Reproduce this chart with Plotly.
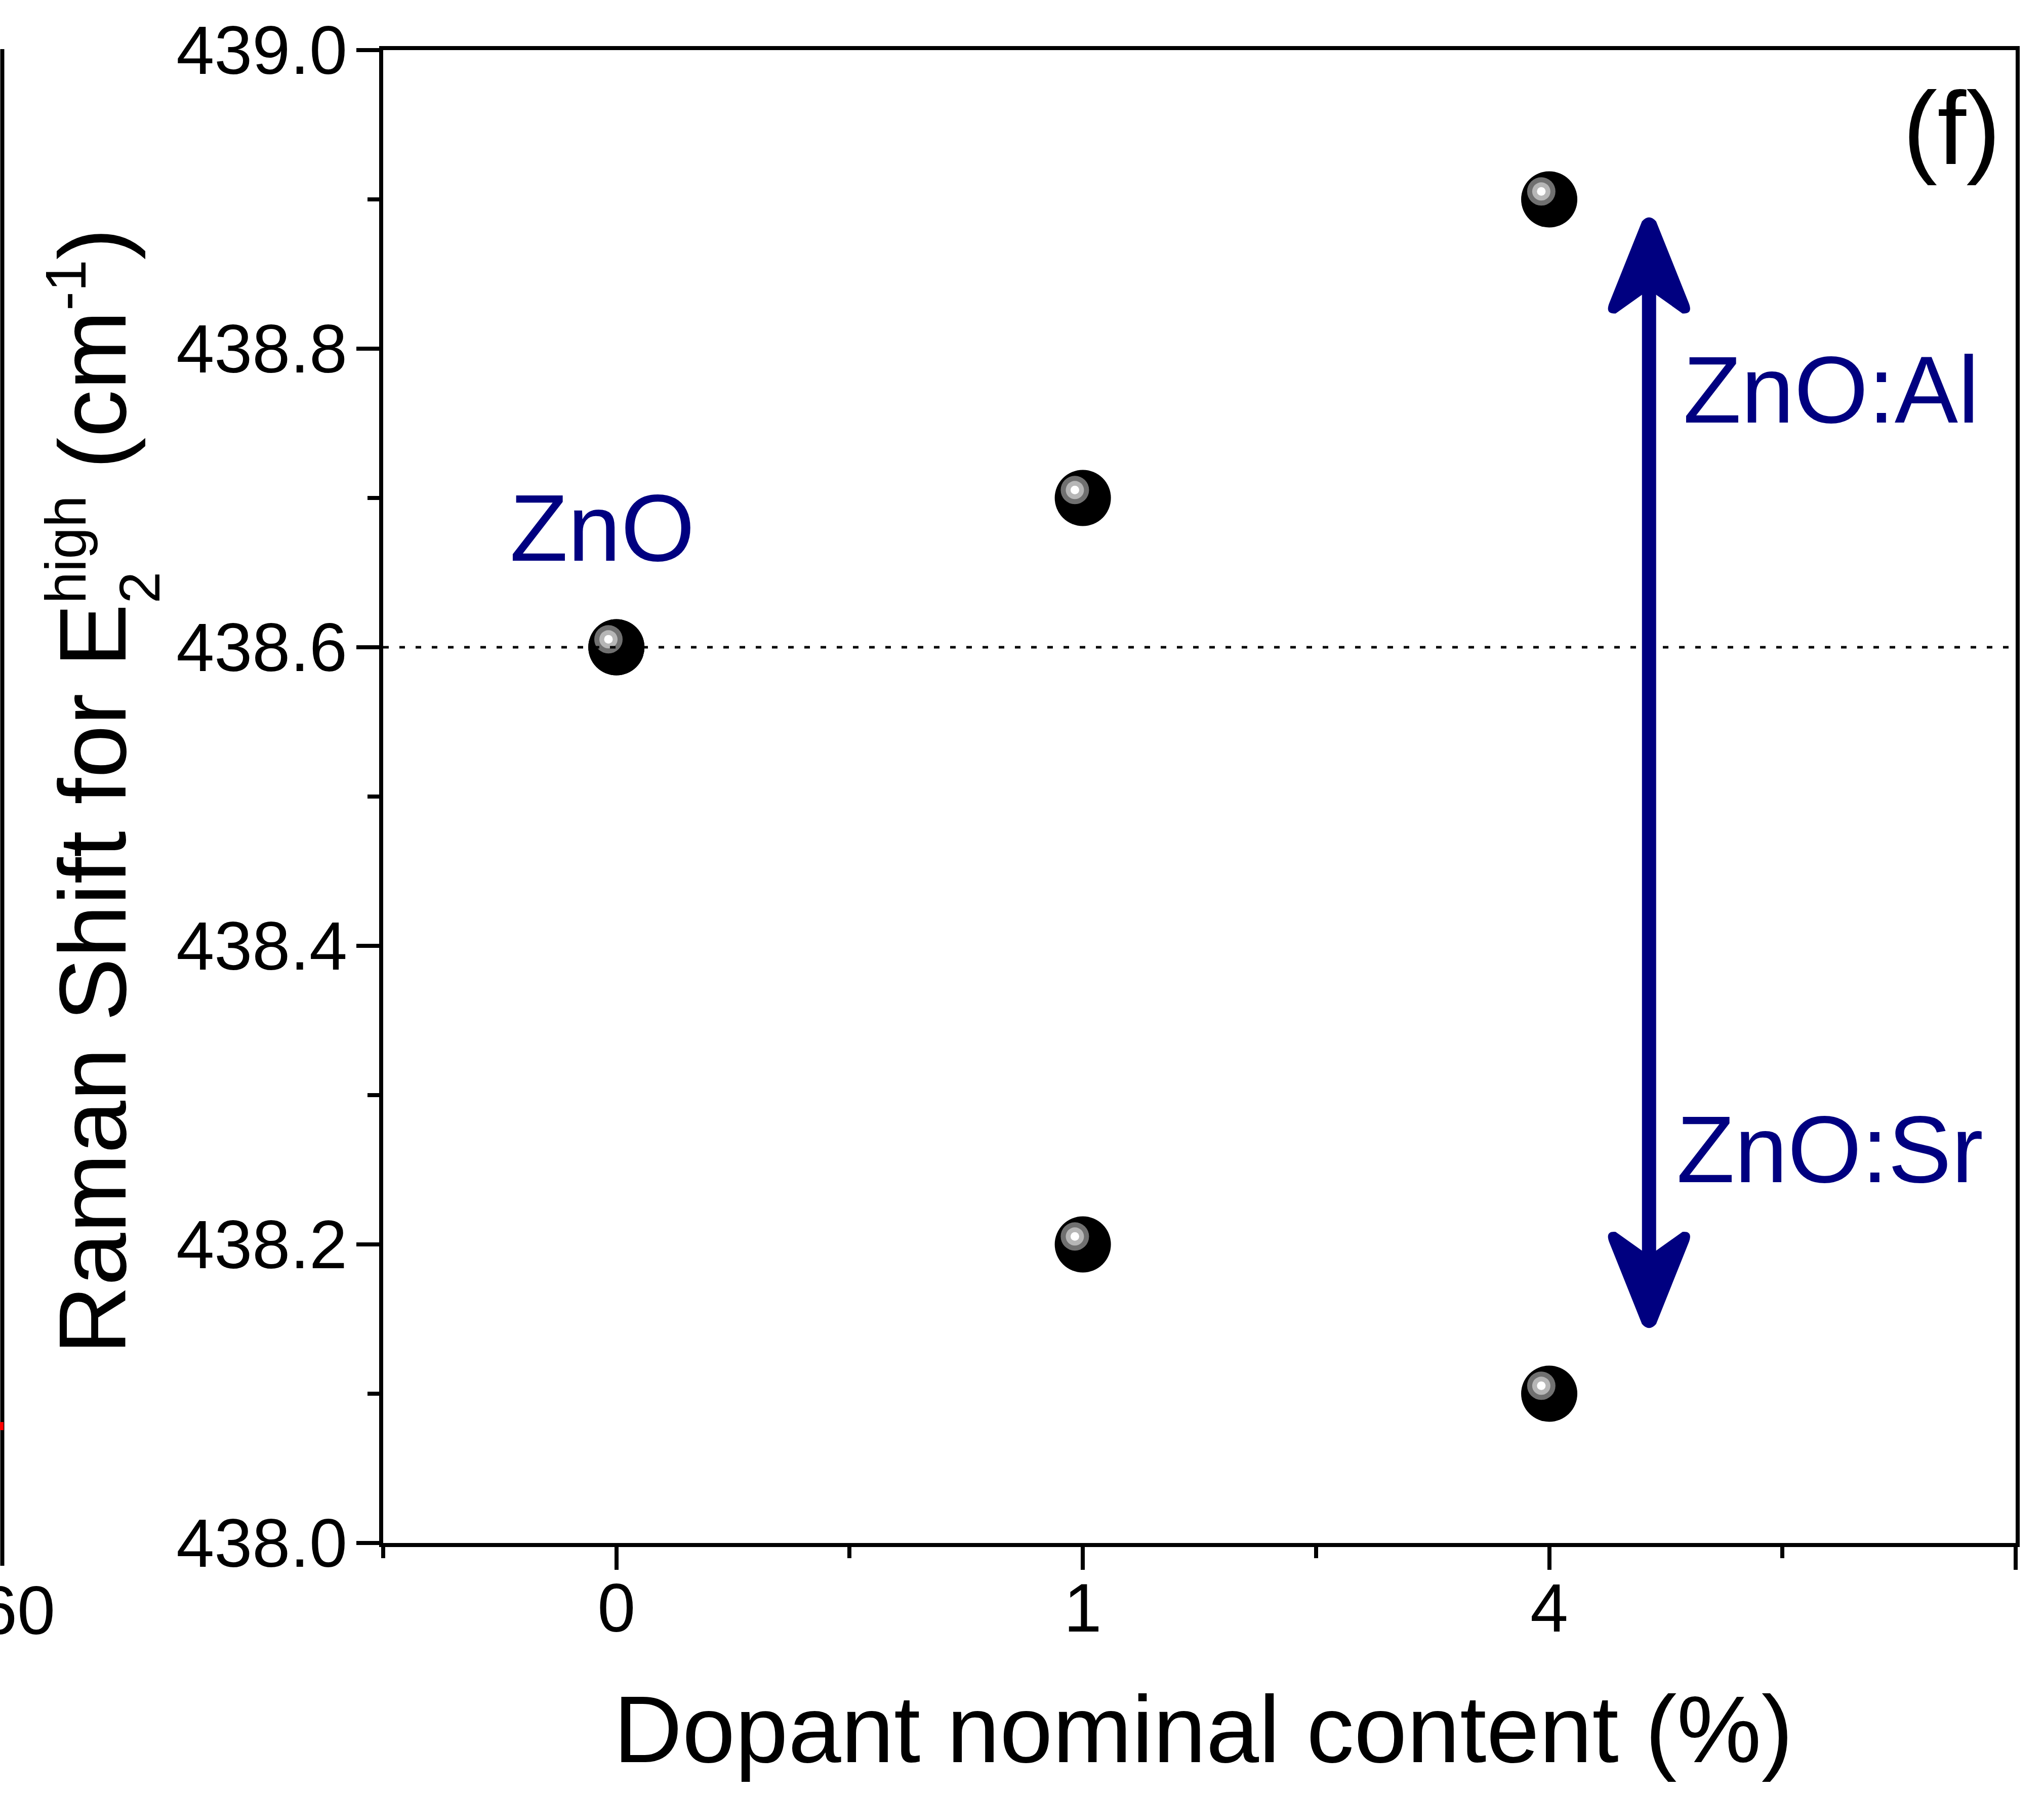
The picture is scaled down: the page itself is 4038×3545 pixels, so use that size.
import plotly.graph_objects as go

# Raman E2(high) peak position versus nominal dopant content
DOPANT_LABELS = ["0", "1", "4"]
DOPANT_POS = [0, 1, 2]
SHIFT_AL = [438.6, 438.7, 438.9]   # ZnO:Al
SHIFT_SR = [438.6, 438.2, 438.1]   # ZnO:Sr
ZNO_REF = 438.6                    # undoped ZnO

Y_TICKS = [438.0, 438.2, 438.4, 438.6, 438.8, 439.0]
Y_MINOR = [438.1, 438.3, 438.5, 438.7, 438.9]
X_TICKS = [0, 1, 2, 3]
X_TICKTEXT = DOPANT_LABELS + [""]
X_MINOR = [-0.5, 0.5, 1.5, 2.5]
X_RANGE = [-0.5, 3.0]
Y_RANGE = [438.0, 439.0]

# double-headed trend arrow
ARROW_X = 2.214
ARROW_TOP = 438.888
ARROW_BOTTOM = 438.144

# page geometry
W, H = 4038, 3545
M_L, M_R, M_T, M_B = 757, 56, 99, 496
PLOT_W = W - M_L - M_R
PLOT_H = H - M_T - M_B
PX_PER_X = PLOT_W / (X_RANGE[1] - X_RANGE[0])
PX_PER_Y = PLOT_H / (Y_RANGE[1] - Y_RANGE[0])

NAVY = "#000080"
FONT = "Liberation Sans, Arial, Helvetica, sans-serif"
TITLE_SIZE = 188
TICK_SIZE = 135
SCRIPT_SIZE = 113


def paper_x(px):
    return (px - M_L) / PLOT_W


def paper_y(py):
    return 1 - (py - M_T) / PLOT_H


# shaded-sphere markers: black ball with an off-centre highlight
SPHERE_LAYERS = [
    (111, "#000000", False),
    (56, "#707070", True),
    (36, "#b6b6b6", True),
    (17, "#ffffff", True),
]
HL_DX = -15.7 / PX_PER_X
HL_DY = 15.7 / PX_PER_Y

fig = go.Figure()
for name, series in (("ZnO:Al", SHIFT_AL), ("ZnO:Sr", SHIFT_SR)):
    for size, color, shifted in SPHERE_LAYERS:
        xs = [x + HL_DX for x in DOPANT_POS] if shifted else DOPANT_POS
        ys = [y + HL_DY for y in series] if shifted else series
        fig.add_trace(go.Scatter(
            x=xs, y=ys, mode="markers", name=name, showlegend=False,
            marker=dict(size=size, color=color, line=dict(width=0)),
            hoverinfo="skip" if shifted else None,
        ))

shapes = []
# reference level of undoped ZnO
shapes.append(dict(type="line", xref="paper", yref="y", x0=0, x1=1,
                   y0=ZNO_REF, y1=ZNO_REF, layer="above",
                   line=dict(color="black", width=5, dash="11px,21px")))

# arrow shaft (ends tucked inside the heads)
shaft_inset = 60 / PX_PER_Y
shapes.append(dict(type="line", xref="x", yref="y",
                   x0=ARROW_X, x1=ARROW_X,
                   y0=ARROW_BOTTOM + shaft_inset, y1=ARROW_TOP - shaft_inset,
                   line=dict(color=NAVY, width=28)))
HEAD_UP = ("M -14,-8 Q 0,8 14,-8 L 78,-168 Q 88,-192 66,-190 L 0,-143 "
           "L -66,-190 Q -88,-192 -78,-168 Z")
HEAD_DOWN = ("M -14,8 Q 0,-8 14,8 L 78,168 Q 88,192 66,190 L 0,143 "
             "L -66,190 Q -88,192 -78,168 Z")
for tip, path in ((ARROW_TOP, HEAD_UP), (ARROW_BOTTOM, HEAD_DOWN)):
    shapes.append(dict(type="path", xref="x", yref="y",
                       xsizemode="pixel", ysizemode="pixel",
                       xanchor=ARROW_X, yanchor=tip, path=path,
                       fillcolor=NAVY, line=dict(width=0)))

# edge of the neighbouring panel
shapes.append(dict(type="line", xref="paper", yref="paper",
                   x0=paper_x(4.5), x1=paper_x(4.5),
                   y0=paper_y(3094), y1=paper_y(97),
                   line=dict(color="black", width=8)))
shapes.append(dict(type="rect", xref="paper", yref="paper",
                   x0=paper_x(0), x1=paper_x(7),
                   y0=paper_y(2826), y1=paper_y(2810),
                   fillcolor="red", line=dict(width=0)))

annotations = [
    # y-axis title with stacked sub/superscript on E
    dict(text="Raman Shift for E<sup><span style='font-size:113px'>high</span></sup>"
              " (cm<sup><span style='font-size:113px'>-1</span></sup>)",
         xref="paper", yref="paper", x=paper_x(290), y=paper_y(2679),
         xanchor="right", yanchor="bottom", textangle=-90, showarrow=False,
         font=dict(family=FONT, size=TITLE_SIZE, color="black")),
    dict(text="2", xref="paper", yref="paper", x=paper_x(340), y=paper_y(1195),
         xanchor="right", yanchor="bottom", textangle=-90, showarrow=False,
         font=dict(family=FONT, size=SCRIPT_SIZE, color="black")),
    # x-axis title
    dict(text="Dopant nominal content (%)", xref="paper", yref="paper",
         x=paper_x(2377), y=paper_y(3417), xanchor="center", yanchor="middle",
         showarrow=False, font=dict(family=FONT, size=TITLE_SIZE, color="black")),
    # series labels
    dict(text="ZnO", xref="x", yref="y", x=-0.030, y=438.68,
         xanchor="center", yanchor="middle", showarrow=False,
         font=dict(family=FONT, size=TITLE_SIZE, color=NAVY)),
    dict(text="ZnO:Al", xref="x", yref="y", x=2.285, y=438.7725,
         xanchor="left", yanchor="middle", showarrow=False,
         font=dict(family=FONT, size=TITLE_SIZE, color=NAVY)),
    dict(text="ZnO:Sr", xref="x", yref="y", x=2.271, y=438.2637,
         xanchor="left", yanchor="middle", showarrow=False,
         font=dict(family=FONT, size=TITLE_SIZE, color=NAVY)),
    # panel label
    dict(text="(f)", xref="x", yref="y", x=2.971, y=438.948,
         xanchor="right", yanchor="middle", showarrow=False,
         font=dict(family=FONT, size=205, color="black")),
    # tick label of the neighbouring panel
    dict(text="60", xref="paper", yref="paper", x=paper_x(34), y=paper_y(3182),
         xanchor="center", yanchor="middle", showarrow=False,
         font=dict(family=FONT, size=TICK_SIZE, color="black")),
]

axis_common = dict(
    showline=True, linecolor="black", linewidth=8, mirror=True,
    showgrid=False, zeroline=False,
    ticks="outside", tickcolor="black", tickwidth=8, ticklen=45,
    tickfont=dict(family=FONT, size=TICK_SIZE, color="black"),
)

fig.update_layout(
    width=W, height=H,
    margin=dict(l=M_L, r=M_R, t=M_T, b=M_B, autoexpand=False),
    paper_bgcolor="white", plot_bgcolor="white",
    showlegend=False,
    xaxis=dict(range=X_RANGE, tickmode="array", tickvals=X_TICKS,
               ticktext=X_TICKTEXT, ticklabelstandoff=-40,
               minor=dict(tickmode="array", tickvals=X_MINOR, ticks="outside",
                          ticklen=22, tickwidth=8, tickcolor="black"),
               **axis_common),
    yaxis=dict(range=Y_RANGE, tickmode="array", tickvals=Y_TICKS,
               tickformat=".1f", ticklabelstandoff=-9,
               minor=dict(tickmode="array", tickvals=Y_MINOR, ticks="outside",
                          ticklen=23, tickwidth=8, tickcolor="black"),
               **axis_common),
    shapes=shapes,
    annotations=annotations,
)

fig.write_html("out.html", config={"displayModeBar": False})
